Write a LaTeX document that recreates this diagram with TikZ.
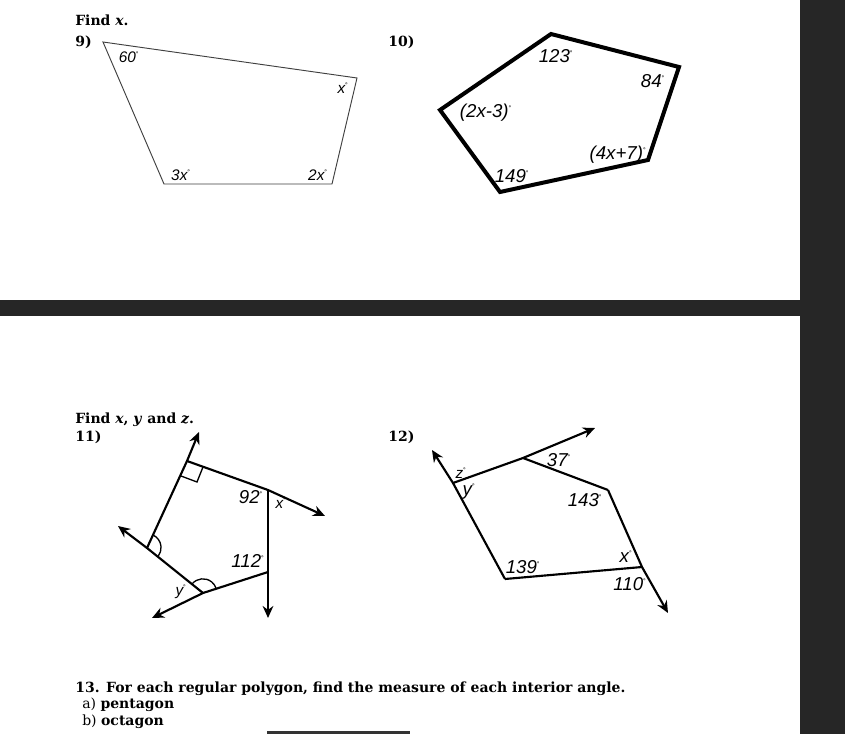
\documentclass[tikz,border=0pt]{standalone}
\usepackage{fontspec}
\setmainfont{DejaVu Serif}
\newfontfamily\lab{Liberation Sans}
\usetikzlibrary{arrows.meta}
\newcommand{\dg}{\textsuperscript{\tiny\upshape °}}
\tikzset{
 lbl/.style={font=\lab\itshape\fontsize{14}{15}\selectfont, inner sep=0pt},
 slbl/.style={font=\lab\itshape\fontsize{11.5}{12}\selectfont, inner sep=0pt},
 head/.style={font=\bfseries\fontsize{10.5}{12}\selectfont, anchor=west, inner sep=0pt},
 sub/.style={font=\fontsize{10.5}{12}\selectfont, anchor=west, inner sep=0pt},
 thin/.style={line width=0.7pt, draw=black!75},
 thick/.style={line width=3pt, line join=miter},
 med/.style={line width=1.6pt},
 arr/.style={med, -{Stealth[length=9pt,width=8pt]}}
}
\begin{document}
\begin{tikzpicture}[x=0.75pt,y=-0.75pt]
\useasboundingbox (0,0) rectangle (845,734);
\fill[white] (0,0) rectangle (845,734);
\fill[black!85] (800,0) rectangle (845,734);
\fill[black!85] (0,300) rectangle (800,316);
\fill[black!80] (267,731) rectangle (410,734);
% 9
\node[head] (t9) at (75,20) {Find \textit{x}.};
\node[head] (n9) at (75,42) {9)};
\coordinate (a) at (103,42); \coordinate (b) at (357,78);
\coordinate (c) at (332,184); \coordinate (d) at (164,184);
\draw[thin] (a)--(b)--(c)--(d)--cycle;
\node[slbl] (l60) at (129,57) {60\dg};
\node[slbl] (lx) at (343,88) {x\dg};
\node[slbl] (l3x) at (181,175) {3x\dg};
\node[slbl] (l2x) at (318,175) {2x\dg};
% 10
\node[head] (n10) at (388,42) {10)};
\coordinate (p1) at (551,34); \coordinate (p2) at (679,67);
\coordinate (p3) at (648,160); \coordinate (p4) at (500,192);
\coordinate (p5) at (440,110);
\draw[thick] (p1)--(p2)--(p3)--(p4)--(p5)--cycle;
\node[lbl] (l123) at (556,56) {123\dg};
\node[lbl] (l84) at (653,81) {84\dg};
\node[lbl] (l2x3) at (486,113) {(2x-3)\dg};
\node[lbl] (l4x7) at (618,155) {(4x+7)\dg};
\node[lbl] (l149) at (512,176) {149\dg};
% 11
\node[head] (t11) at (75,420) {Find \textit{x}, \textit{y} and \textit{z}.};
\node[head] (n11) at (75,437) {11)};
\coordinate (q1) at (187,461); \coordinate (q2) at (268,490);
\coordinate (q3) at (268,572); \coordinate (q4) at (203,593);
\coordinate (q5) at (147,548);
\coordinate (e1) at (199,432); \coordinate (e2) at (325,516);
\coordinate (e3) at (268,618); \coordinate (e4) at (152,618);
\coordinate (e5) at (118,526);
\draw[arr] (q5)--(q1)--(e1);
\draw[arr] (q1)--(q2)--(e2);
\draw[arr] (q2)--(q3)--(e3);
\draw[arr] (q3)--(q4)--(e4);
\draw[arr] (q4)--(q5)--(e5);
\draw[line width=1pt] (203,467) -- (197,482) -- (181,476);
\draw[line width=1pt] (153,535) arc[start angle=-65, end angle=39, radius=14];
\draw[line width=1pt] (192,584) arc[start angle=-141, end angle=-18, radius=14];
\node[lbl] (l92) at (251,497) {92\dg};
\node[slbl] (lx11) at (281,503) {x\dg};
\node[lbl] (l112) at (248,561) {112\dg};
\node[slbl] (ly11) at (181,592) {y\dg};
% 12
\node[head] (n12) at (388,437) {12)};
\coordinate (r1) at (523,458); \coordinate (r2) at (608,490);
\coordinate (r3) at (642,567); \coordinate (r4) at (505,579);
\coordinate (r5) at (453,483);
\coordinate (f1) at (595,428); \coordinate (f2) at (668,613);
\coordinate (f3) at (432,450);
\draw[arr] (r5)--(r1)--(f1);
\draw[med] (r1)--(r2);
\draw[arr] (r2)--(r3)--(f2);
\draw[med] (r3)--(r4);
\draw[arr] (r4)--(r5)--(f3);
\node[slbl] (lz) at (461,473) {z\dg};
\node[lbl] (ly) at (469,492) {y\dg};
\node[lbl] (l37) at (559,460) {37\dg};
\node[lbl] (l143) at (585,500) {143\dg};
\node[lbl] (l139) at (523,567) {139\dg};
\node[lbl] (lx12) at (626,557) {x\dg};
\node[lbl] (l110) at (630,584) {110\dg};
% 13
\node[head] (t13) at (75,689) {13. For each regular polygon, find the measure of each interior angle.};
\node[sub] (ta) at (82,705) {a) \textbf{pentagon}};
\node[sub] (tb) at (82,722) {b) \textbf{octagon}};
\end{tikzpicture}
\end{document}
